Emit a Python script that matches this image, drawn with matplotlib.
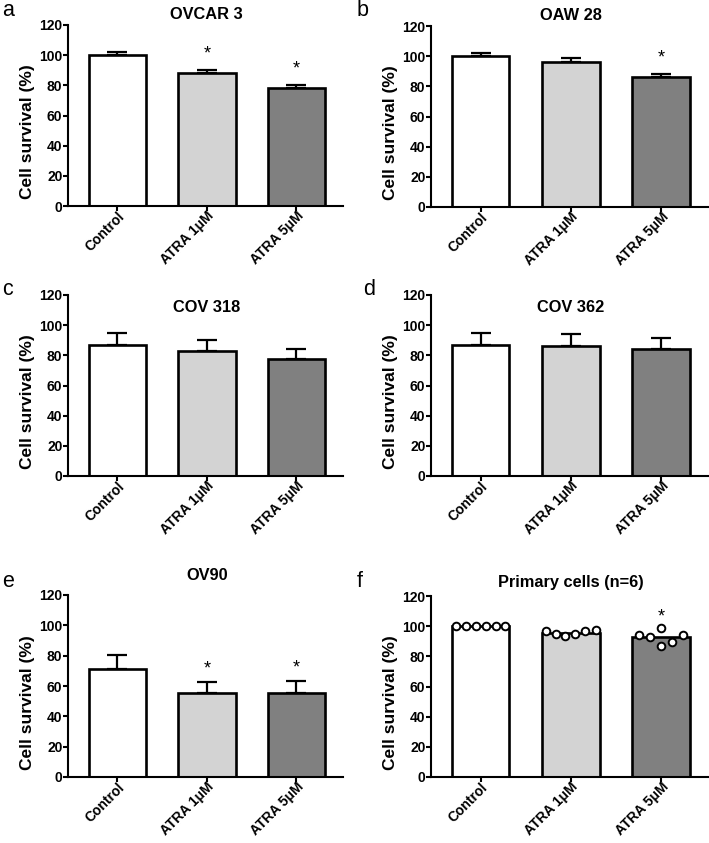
import matplotlib
matplotlib.use('Agg')
import matplotlib.pyplot as plt

plt.rcParams['font.family'] = ['Liberation Sans', 'DejaVu Sans']

# groups shared by every panel
groups = ['Control', 'ATRA 1μM', 'ATRA 5μM']
bar_colors = ['#ffffff', '#d3d3d3', '#808080']

# cell survival (%) mean and upper error per panel
ovcar3_mean = [100, 88, 78.5]
ovcar3_err = [2.0, 2.2, 1.6]
oaw28_mean = [100, 96, 86.2]
oaw28_err = [2.4, 2.6, 1.8]
cov318_mean = [86.8, 83, 77.5]
cov318_err = [7.8, 7.3, 7.0]
cov362_mean = [86.8, 86.3, 84.2]
cov362_err = [7.8, 7.8, 7.6]
ov90_mean = [71.3, 55.3, 55.5]
ov90_err = [9.1, 7.4, 7.6]

# primary cells, individual values (n=6)
primary_ctrl = [100, 100, 100, 100, 100, 100]
primary_atra1 = [97.0, 94.6, 93.5, 94.6, 96.5, 97.6]
primary_atra5 = [94.1, 93.0, 98.6, 86.6, 89.7, 94.1]

# significance (*) per group
sig_ovcar3 = [False, True, True]
sig_oaw28 = [False, False, True]
sig_cov318 = [False, False, False]
sig_cov362 = [False, False, False]
sig_ov90 = [False, True, True]
sig_primary = [False, False, True]

W, H = 709, 843
fig = plt.figure(figsize=(W / 100, H / 100), dpi=100)

def px_axes(x0, x1, y_top, y_bot):
    return fig.add_axes([x0 / W, 1 - y_bot / H, (x1 - x0) / W, (y_bot - y_top) / H])

def style_axes(ax):
    ax.set_xlim(-0.55, 2.52)
    ax.set_ylim(0, 120)
    ax.set_yticks(range(0, 121, 20))
    ax.set_xticks(range(3))
    ax.set_xticklabels(groups, rotation=45, ha='right', rotation_mode='anchor',
                       fontsize=10, fontweight='bold')
    for lab in ax.get_yticklabels():
        lab.set_fontweight('bold')
        lab.set_fontsize(10)
    for s in ['top', 'right']:
        ax.spines[s].set_visible(False)
    for s in ['left', 'bottom']:
        ax.spines[s].set_linewidth(1.5)
    ax.tick_params(axis='y', width=1.5, length=3.5, direction='out', pad=0.5)
    ax.tick_params(axis='x', width=1.5, length=3.6, direction='out', pad=-1.5)
    ax.set_ylabel('Cell survival (%)', fontsize=12.5, fontweight='bold')
    ax.yaxis.set_label_coords(-0.12, 0.41)

def bar_panel(ax, means, errs, title, title_y):
    x = range(3)
    ax.bar(x, means, width=0.64, color=bar_colors, edgecolor='black', linewidth=1.9, zorder=2)
    if errs is not None:
        ax.errorbar(x, means, yerr=[[0] * 3, errs], fmt='none', ecolor='black',
                    elinewidth=1.6, capsize=7, capthick=1.6, zorder=1)
    style_axes(ax)
    ax.text(1, title_y, title, ha='center', va='center', fontsize=11.8,
            fontweight='bold', clip_on=False)

def add_stars(ax, tops, sig, gap=5):
    for i, (t, s) in enumerate(zip(tops, sig)):
        if s:
            ax.text(i, t + gap, '*', ha='center', va='bottom', fontsize=13)

# panel a
ax = px_axes(68, 343, 25, 206)
bar_panel(ax, ovcar3_mean, ovcar3_err, 'OVCAR 3', 127)
add_stars(ax, [m + e for m, e in zip(ovcar3_mean, ovcar3_err)], sig_ovcar3)

# panel b
ax = px_axes(431, 708, 26, 207)
bar_panel(ax, oaw28_mean, oaw28_err, 'OAW 28', 127)
add_stars(ax, [m + e for m, e in zip(oaw28_mean, oaw28_err)], sig_oaw28)

# panel c
ax = px_axes(68, 343, 295, 476)
bar_panel(ax, cov318_mean, cov318_err, 'COV 318', 112)

# panel d
ax = px_axes(431, 708, 295, 476)
bar_panel(ax, cov362_mean, cov362_err, 'COV 362', 112)

# panel e
ax = px_axes(68, 343, 595, 777)
bar_panel(ax, ov90_mean, ov90_err, 'OV90', 133)
add_stars(ax, [m + e for m, e in zip(ov90_mean, ov90_err)], sig_ov90, gap=3)

# panel f: bars are means of the individual primary cell values
ax = px_axes(431, 708, 596, 777)
primary = [primary_ctrl, primary_atra1, primary_atra5]
primary_mean = [sum(v) / len(v) for v in primary]
bar_panel(ax, primary_mean, None, 'Primary cells (n=6)', 129)
spread = [
    [-0.275, -0.165, -0.055, 0.055, 0.165, 0.275],
    [-0.28, -0.17, -0.06, 0.05, 0.16, 0.28],
    [-0.24, -0.12, 0.0, 0.0, 0.12, 0.24],
]
for i, vals in enumerate(primary):
    ax.plot([i + d for d in spread[i]], vals, 'o', markersize=5.5, markerfacecolor='white',
            markeredgecolor='black', markeredgewidth=1.4, zorder=3, clip_on=False)
add_stars(ax, [max(v) for v in primary], sig_primary, gap=2)

# panel letters
letters = [('a', 2, 16), ('b', 357, 16), ('c', 2, 295), ('d', 363, 295), ('e', 2, 587), ('f', 357, 587)]
for lab, lx, ly in letters:
    fig.text(lx / W, 1 - ly / H, lab, fontsize=15.5, ha='left', va='baseline')

fig.savefig('out.png', dpi=100)
